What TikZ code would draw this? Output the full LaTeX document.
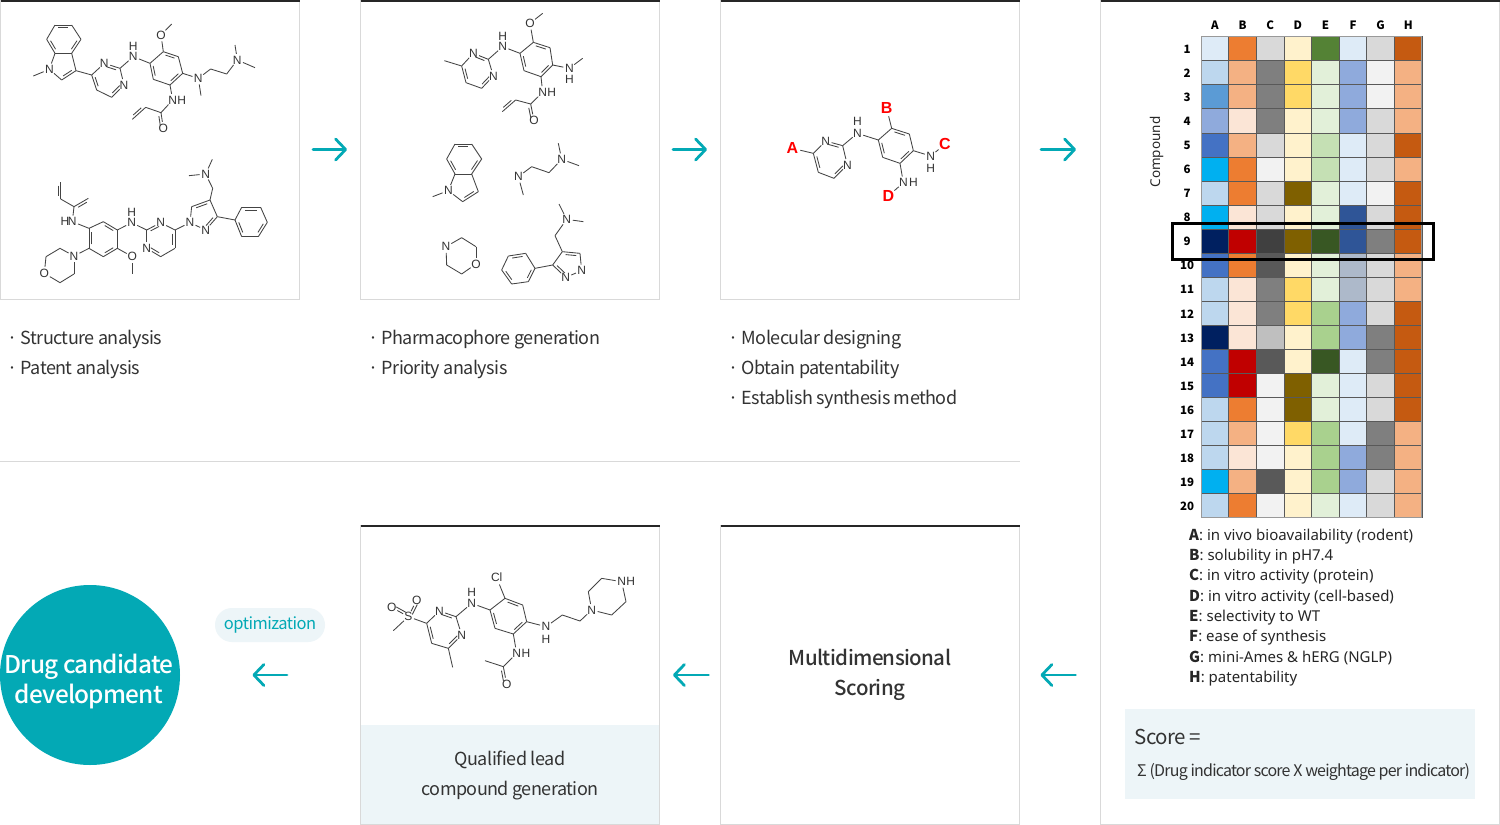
\documentclass[tikz,border=0pt]{standalone}
\usepackage{fontspec}
\usetikzlibrary{calc,arrows.meta}
\setmainfont{Noto Sans}
\newfontfamily\nk[LetterSpace=-3]{Noto Sans CJK KR}
\newfontfamily\nkt[LetterSpace=-5]{Noto Sans CJK KR}
\newfontfamily\nkm[LetterSpace=-3]{Noto Sans CJK KR Medium}
\newfontfamily\nkc[LetterSpace=-3]{Noto Sans CJK KR Medium}
\newfontfamily\nkb{Noto Sans CJK KR}
\newfontfamily\atf{Liberation Sans}
\definecolor{teal1}{HTML}{03A9B5}
\definecolor{pale}{HTML}{EDF5F8}
\definecolor{edge}{HTML}{D9D9D9}
\definecolor{ink}{HTML}{333333}
\definecolor{bond1}{HTML}{444444}
\definecolor{bl0}{HTML}{DEEBF7}\definecolor{bl1}{HTML}{BDD7EE}\definecolor{bl2}{HTML}{5B9BD5}
\definecolor{bl3}{HTML}{8FAADC}\definecolor{bl4}{HTML}{4472C4}\definecolor{cy}{HTML}{00B0F0}
\definecolor{nv}{HTML}{002060}\definecolor{or0}{HTML}{FBE5D6}\definecolor{or1}{HTML}{F4B183}
\definecolor{or2}{HTML}{ED7D31}\definecolor{rd}{HTML}{C00000}\definecolor{br}{HTML}{C55A11}
\definecolor{gy0}{HTML}{F2F2F2}\definecolor{gy1}{HTML}{D9D9D9}\definecolor{gy2}{HTML}{BFBFBF}
\definecolor{gy3}{HTML}{7F7F7F}\definecolor{gy4}{HTML}{595959}\definecolor{gy5}{HTML}{404040}
\definecolor{ye0}{HTML}{FFF2CC}\definecolor{ye1}{HTML}{FFD966}\definecolor{ye2}{HTML}{7F6000}
\definecolor{gr0}{HTML}{E2F0D9}\definecolor{gr1}{HTML}{C5E0B4}\definecolor{gr2}{HTML}{A9D18E}
\definecolor{gr3}{HTML}{548235}\definecolor{gr4}{HTML}{385723}\definecolor{fb}{HTML}{2F5597}
\definecolor{fg}{HTML}{ADB9CA}
\tikzset{
  panel/.style={draw=edge,line width=1pt,minimum width=299pt,minimum height=299pt,inner sep=0pt,outer sep=0pt},
  topline/.style={draw=black!85,line width=2.4pt},
  flow/.style={draw=teal1,line width=2.8pt,line cap=round,line join=round,-{Straight Barb[length=10pt,width=21pt,round]}},
  atom/.style={circle,inner sep=0pt,minimum size=11pt,text=ink,font=\atf\fontsize{12}{12}\selectfont},
  redatom/.style={circle,inner sep=0pt,minimum size=10pt,text=red,font=\atf\bfseries\fontsize{16}{16}\selectfont},
  bond/.style={draw=bond1,line width=.85pt},
  body/.style={anchor=base west,inner sep=0pt,text=ink,font=\nk\fontsize{18}{18}\selectfont},
  legend/.style={anchor=base west,inner sep=0pt,text=black!85,font=\fontsize{15}{15}\selectfont},
  rowlab/.style={inner sep=0pt,text=black,font=\nkb\bfseries\fontsize{11.5}{11.5}\selectfont},
  mol/.style={x=.33333pt,y=-.33333pt}
}
\newcommand{\At}[4]{\node[atom] (#1) at (#2,#3) {#4};}
\newcommand{\Ra}[4]{\node[redatom] (#1) at (#2,#3) {#4};}
\newcommand{\Cc}[3]{\coordinate (#1) at (#2,#3);}
\newcommand{\Bd}[1]{\foreach \pa/\pb in {#1} \draw[bond] (\pa) -- (\pb);}
\newcommand{\Db}[1]{\foreach \pa/\pb in {#1} \draw[bond] ($(\pa)!.2!(\pb)!2.6pt!-90:(\pb)$) -- ($(\pb)!.2!(\pa)!2.6pt!90:(\pa)$);}
\newcommand{\Lg}[1]{{\nkb\bfseries #1}}
\begin{document}
\begin{tikzpicture}[x=1pt,y=-1pt]
\useasboundingbox (0,0) rectangle (1500,825);
\fill[white] (0,0) rectangle (1500,825);
% panels
\node[panel] (p1) at (150,150) {};
\node[panel] (p2) at (510,150) {};
\node[panel] (p3) at (870,150) {};
\node[panel,minimum width=399pt,minimum height=824pt] (p4) at (1300,412.5) {};
\node[panel] (p5) at (510,675) {};
\node[panel] (p6) at (870,675) {};
\fill[pale] (361,725) rectangle (659,824);
\foreach \pp in {p1,p2,p3,p4,p5,p6} \draw[topline] ([yshift=-.5pt]\pp.north west) -- ([yshift=-.5pt]\pp.north east);
\coordinate (divL) at (0,461); \coordinate (divR) at (1020,461);
\draw[edge,line width=1pt] (divL) -- (divR);
% circle and pill
\node[circle,fill=teal1,minimum size=180pt,inner sep=0pt,outer sep=0pt] (cand) at (90,675) {};
\node[inner sep=0pt,align=center,text=white,font=\nkc\fontsize{24.4}{30}\selectfont] (candt) at (89,681.5) {Drug candidate\\development};
\node[fill=pale,rounded corners=17pt,minimum width=110pt,minimum height=34pt,inner sep=0pt,text=teal1,font=\nk\fontsize{16.5}{18}\selectfont] (opt) at (270,625) {\raisebox{-2.5pt}{optimization}};
% arrows
\draw[flow,shorten <=13.5pt,shorten >=13.5pt] ([yshift=.5pt]p1.east) -- ([yshift=.5pt]p2.west);
\draw[flow,shorten <=13.5pt,shorten >=13.5pt] ([yshift=.5pt]p2.east) -- ([yshift=.5pt]p3.west);
\draw[flow,shorten <=21.5pt,shorten >=24.5pt] ([yshift=.5pt]p3.east) -- ([yshift=.5pt]p3.east -| p4.west);
\draw[flow,shorten <=25pt,shorten >=21pt] (p6.east -| p4.west) -- (p6.east);
\draw[flow,shorten <=12pt,shorten >=13.5pt] (p6.west) -- (p5.east);
\draw[flow,shorten <=73.5pt,shorten >=72.5pt] (p5.west) -- (cand.east);
% bullet texts
\newcommand{\BulT}[4]{\node[body] (#1) at (#2,#3) {\makebox[10.5pt][l]{\hspace*{-2.5pt}·}#4};}
\BulT{t1}{10}{344}{Structure analysis}
\BulT{t2}{10}{374}{Patent analysis}
\BulT{t3}{371}{344}{Pharmacophore generation}
\BulT{t4}{371}{374}{Priority analysis}
\BulT{t5}{731}{344}{Molecular designing}
\BulT{t6}{731}{374}{Obtain patentability}
\BulT{t7}{731}{404}{Establish synthesis method}
\node[inner sep=0pt,align=center,text=ink,font=\nkm\fontsize{20.5}{30}\selectfont] (ms) at (870,675) {Multidimensional\\Scoring};
\node[inner sep=0pt,align=center,text=ink,font=\nk\fontsize{18}{30}\selectfont] (ql) at (510,775) {Qualified lead\\compound generation};
% heat map
\def\colw{27.6}\def\rowh{24.03}
\newcommand{\Rw}[9]{\foreach \cc [count=\ci from 0] in {#2,#3,#4,#5,#6,#7,#8,#9}
  \fill[fill=\cc,draw=black!65,line width=.6pt] ({1201+\ci*\colw},{36.7+(#1-1)*\rowh}) rectangle ++(\colw,\rowh);
  \node[rowlab] (r#1) at (1187,{37.5+(#1-.5)*\rowh}) {#1};}
\Rw{1}{bl0}{or2}{gy1}{ye0}{gr3}{bl0}{gy1}{br}
\Rw{2}{bl1}{or1}{gy3}{ye1}{gr0}{bl3}{gy0}{or1}
\Rw{3}{bl2}{or1}{gy3}{ye1}{gr0}{bl3}{gy0}{or1}
\Rw{4}{bl3}{or0}{gy3}{ye0}{gr0}{bl3}{gy1}{or1}
\Rw{5}{bl4}{or1}{gy1}{ye0}{gr1}{bl0}{gy1}{br}
\Rw{6}{cy}{or2}{gy0}{ye0}{gr1}{bl0}{gy1}{or1}
\Rw{7}{bl1}{or2}{gy1}{ye2}{gr0}{bl0}{gy0}{br}
\Rw{8}{cy}{or0}{gy1}{ye0}{gr0}{fb}{gy1}{br}
\Rw{9}{nv}{rd}{gy5}{ye2}{gr4}{fb}{gy3}{br}
\Rw{10}{bl4}{or2}{gy4}{ye0}{gr0}{fg}{gy1}{or1}
\Rw{11}{bl1}{or0}{gy3}{ye1}{gr0}{fg}{gy1}{or1}
\Rw{12}{bl1}{or0}{gy3}{ye1}{gr2}{bl3}{gy1}{br}
\Rw{13}{nv}{or0}{gy2}{ye0}{gr2}{bl3}{gy3}{br}
\Rw{14}{bl4}{rd}{gy4}{ye0}{gr4}{bl0}{gy3}{br}
\Rw{15}{bl4}{rd}{gy0}{ye2}{gr0}{bl0}{gy1}{br}
\Rw{16}{bl1}{or2}{gy0}{ye2}{gr0}{bl0}{gy1}{br}
\Rw{17}{bl1}{or1}{gy0}{ye1}{gr2}{bl0}{gy3}{or1}
\Rw{18}{bl1}{or0}{gy0}{ye0}{gr2}{bl3}{gy3}{or1}
\Rw{19}{cy}{or1}{gy4}{ye0}{gr2}{bl3}{gy1}{or1}
\Rw{20}{bl1}{or2}{gy0}{ye0}{gr0}{bl0}{gy1}{or1}
\draw[black!40,line width=1pt] (1201,36.7) rectangle (1421.8,517.3);
\foreach \hh [count=\hi from 0] in {A,B,C,D,E,F,G,H}
  \node[rowlab] (h\hh) at ({1215+\hi*\colw},25) {\hh};
\node[inner sep=0pt,rotate=90,text=black!85,font=\fontsize{13.5}{14}\selectfont] (cpd) at (1156.5,152) {Compound};
\node[draw=black,line width=2.8pt,minimum width=261pt,minimum height=36pt,inner sep=0pt] (sel) at (1303,241.5) {};
% legend
\node[legend] (l1) at (1189,540) {\Lg{A}: in vivo bioavailability (rodent)};
\node[legend] (l2) at (1189,560) {\Lg{B}: solubility in pH7.4};
\node[legend] (l3) at (1189,580.5) {\Lg{C}: in vitro activity (protein)};
\node[legend] (l4) at (1189,601) {\Lg{D}: in vitro activity (cell-based)};
\node[legend] (l5) at (1189,621.5) {\Lg{E}: selectivity to WT};
\node[legend] (l6) at (1189,641.5) {\Lg{F}: ease of synthesis};
\node[legend] (l7) at (1189,662.5) {\Lg{G}: mini-Ames \& hERG (NGLP)};
\node[legend] (l8) at (1189,682.5) {\Lg{H}: patentability};
\node[fill=pale,minimum width=350pt,minimum height=90pt,inner sep=0pt] (sb) at (1300,754) {};
\node[anchor=base west,inner sep=0pt,text=ink,font=\nk\fontsize{20.5}{21}\selectfont] (s1) at (1134.5,744) {Score =};
\node[anchor=base west,inner sep=0pt,text=ink,font=\nkt\fontsize{16}{17}\selectfont] (s2) at (1137,776) {Σ (Drug indicator score X weightage per indicator)};
% molecule 1
\begin{scope}[mol]
\Cc{a1}{165}{75}\Cc{a2}{215}{75}\Cc{a3}{243}{118}\Cc{a4}{215}{160}\Cc{a5}{165}{160}\Cc{a6}{140}{118}
\At{aN}{148}{208}{N}\Cc{aMe}{100}{228}\Cc{a7}{185}{240}\Cc{a8}{228}{212}
\Cc{a9}{275}{225}\At{a10}{313}{190}{N}\Cc{a11}{360}{205}\At{a12}{372}{255}{N}\Cc{a13}{335}{292}\Cc{a14}{290}{270}
\At{a15}{400}{170}{N}\At{a16}{400}{140}{H}
\Cc{b1}{450}{190}\Cc{b2}{490}{155}\Cc{b3}{535}{170}\Cc{b4}{548}{220}\Cc{b5}{510}{255}\Cc{b6}{460}{238}
\At{aO}{483}{105}{O}\Cc{aOMe}{515}{72}
\At{aN2}{595}{235}{N}\Cc{aM2}{603}{287}\Cc{aC1}{632}{207}\Cc{aC2}{680}{222}\At{aN3}{712}{180}{N}\Cc{aM3}{705}{135}\Cc{aM4}{765}{203}
\At{aN4}{518}{300}{N}\At{aH4}{545}{300}{H}\Cc{aC3}{483}{338}\At{aO2}{490}{385}{O}\Cc{aC4}{437}{322}\Cc{aC5}{397}{358}
\Bd{a1/a2,a2/a3,a3/a4,a4/a5,a5/a6,a6/a1,a5/aN,aN/aMe,aN/a7,a7/a8,a8/a4,a8/a9,a9/a10,a10/a11,a11/a12,a12/a13,a13/a14,a14/a9,a11/a15,a15/b1,b1/b2,b2/b3,b3/b4,b4/b5,b5/b6,b6/b1,b2/aO,aO/aOMe,b4/aN2,aN2/aM2,aN2/aC1,aC1/aC2,aC2/aN3,aN3/aM3,aN3/aM4,b5/aN4,aN4/aC3,aC3/aO2,aC3/aC4,aC4/aC5}
\Db{a1/a2,a3/a4,a5/a6,a8/a7,a10/a11,a12/a13,a14/a9,b2/b3,b4/b5,b6/b1,aC3/aO2,aC4/aC5}
% molecule 2
\Cc{c1}{182}{547}\Cc{c2}{182}{597}\Cc{c3}{222}{620}\Cc{c4}{265}{595}\At{cN}{217}{665}{N}\At{cH}{195}{665}{H}
\Cc{d1}{267}{685}\Cc{d2}{310}{665}\Cc{d3}{352}{690}\Cc{d4}{352}{745}\Cc{d5}{310}{770}\Cc{d6}{267}{745}
\At{cN2}{222}{768}{N}\Cc{e1}{180}{745}\Cc{e2}{138}{770}\At{e3}{133}{820}{O}\Cc{e4}{180}{848}\Cc{e5}{222}{822}
\At{cO}{397}{770}{O}\Cc{cOM}{397}{822}\At{cN3}{395}{668}{N}\At{cH3}{395}{638}{H}
\Cc{f1}{440}{690}\At{f2}{482}{668}{N}\Cc{f3}{525}{690}\Cc{f4}{525}{745}\Cc{f5}{482}{770}\At{f6}{440}{745}{N}
\At{g1}{570}{668}{N}\At{g2}{617}{690}{N}\Cc{g3}{652}{650}\Cc{g4}{630}{600}\Cc{g5}{575}{620}
\Cc{gC}{638}{565}\At{gN}{617}{522}{N}\Cc{gM1}{567}{527}\Cc{gM2}{637}{478}
\Cc{j1}{705}{660}\Cc{j2}{725}{622}\Cc{j3}{782}{622}\Cc{j4}{802}{667}\Cc{j5}{775}{710}\Cc{j6}{725}{710}
\Bd{c1/c2,c2/c3,c3/c4,c3/cN,cN/d1,d1/d2,d2/d3,d3/d4,d4/d5,d5/d6,d6/d1,d6/cN2,cN2/e1,e1/e2,e2/e3,e3/e4,e4/e5,e5/cN2,d4/cO,cO/cOM,d3/cN3,cN3/f1,f1/f2,f2/f3,f3/f4,f4/f5,f5/f6,f6/f1,f3/g1,g1/g2,g2/g3,g3/g4,g4/g5,g5/g1,g4/gC,gC/gN,gN/gM1,gN/gM2,g3/j1,j1/j2,j2/j3,j3/j4,j4/j5,j5/j6,j6/j1}
\Db{c1/c2,c3/c4,d2/d3,d4/d5,d6/d1,f1/f2,f3/f4,f5/f6,g5/g4,g3/g2,j2/j3,j4/j5,j6/j1}
\end{scope}
% panel 2 molecules
\begin{scope}[shift={(360,0)},mol]
\Cc{k0}{253}{182}\Cc{k1}{305}{198}\At{k2}{340}{160}{N}\Cc{k3}{385}{178}\At{k4}{400}{228}{N}\Cc{k5}{365}{265}\Cc{k6}{318}{248}
\At{kN}{428}{140}{N}\At{kH}{428}{108}{H}
\Cc{l1a}{480}{160}\Cc{l2a}{520}{127}\Cc{l3a}{570}{143}\Cc{l4a}{578}{195}\Cc{l5a}{543}{230}\Cc{l6a}{492}{212}
\At{kO}{510}{70}{O}\Cc{kOM}{548}{40}\At{kN2}{628}{205}{N}\At{kH2}{628}{238}{H}\Cc{kM2}{668}{175}
\At{kN3}{548}{277}{N}\At{kH3}{575}{277}{H}\Cc{kC}{512}{312}\At{kO2}{522}{362}{O}\Cc{kV1}{467}{300}\Cc{kV2}{427}{335}
\Bd{k0/k1,k1/k2,k2/k3,k3/k4,k4/k5,k5/k6,k6/k1,k3/kN,kN/l1a,l1a/l2a,l2a/l3a,l3a/l4a,l4a/l5a,l5a/l6a,l6a/l1a,l2a/kO,kO/kOM,l4a/kN2,kN2/kM2,l5a/kN3,kN3/kC,kC/kO2,kC/kV1,kV1/kV2}
\Db{k2/k3,k4/k5,k6/k1,l2a/l3a,l4a/l5a,l6a/l1a,kC/kO2,kV1/kV2}
\Cc{m1}{285}{432}\Cc{m2}{335}{432}\Cc{m3}{365}{477}\Cc{m4}{335}{522}\Cc{m5}{285}{522}\Cc{m6}{260}{477}
\At{mN}{265}{572}{N}\Cc{mMe}{218}{590}\Cc{m7}{308}{605}\Cc{m8}{355}{575}
\Bd{m1/m2,m2/m3,m3/m4,m4/m5,m5/m6,m6/m1,m5/mN,mN/mMe,mN/m7,m7/m8,m8/m4}
\Db{m1/m2,m3/m4,m5/m6,m8/m7}
\At{nN}{605}{478}{N}\Cc{nM1}{595}{430}\Cc{nM2}{657}{497}\Cc{nC1}{567}{518}\Cc{nC2}{515}{500}\At{nN2}{475}{530}{N}\Cc{nM3}{490}{585}
\Bd{nN/nM1,nN/nM2,nN/nC1,nC1/nC2,nC2/nN2,nN2/nM3}
\At{oN}{258}{740}{N}\Cc{o2}{305}{713}\Cc{o3}{348}{740}\At{oO}{348}{792}{O}\Cc{o5}{305}{822}\Cc{o6}{260}{795}
\Bd{oN/o2,o2/o3,o3/oO,oO/o5,o5/o6,o6/oN}
\At{qN}{620}{658}{N}\Cc{qM1}{597}{612}\Cc{qM2}{670}{665}\Cc{qC}{585}{707}\Cc{q1}{607}{755}\Cc{q2}{660}{760}\At{q3}{665}{812}{N}\At{q4}{617}{832}{N}\Cc{q5}{578}{795}
\Cc{s1a}{525}{805}\Cc{s2a}{497}{760}\Cc{s3a}{445}{768}\Cc{s4a}{425}{810}\Cc{s5a}{455}{852}\Cc{s6a}{505}{845}
\Bd{qN/qM1,qN/qM2,qN/qC,qC/q1,q1/q2,q2/q3,q3/q4,q4/q5,q5/q1,q5/s1a,s1a/s2a,s2a/s3a,s3a/s4a,s4a/s5a,s5a/s6a,s6a/s1a}
\Db{q1/q2,q4/q5,s1a/s6a,s5a/s4a,s3a/s2a}
\end{scope}
% panel 3 molecule
\begin{scope}[shift={(760,80)},mol]
\Ra{rA}{97}{205}{A}\Cc{r1}{160}{220}\At{r2}{197}{183}{N}\Cc{r3}{248}{197}\At{r4}{262}{255}{N}\Cc{r5}{222}{295}\Cc{r6}{175}{277}
\At{rN}{292}{160}{N}\At{rH}{292}{125}{H}
\Cc{u1}{355}{180}\Cc{u2}{395}{145}\Cc{u3}{448}{162}\Cc{u4}{460}{212}\Cc{u5}{420}{250}\Cc{u6}{368}{232}
\Ra{rB}{380}{85}{B}\At{rN2}{512}{228}{N}\At{rH2}{512}{265}{H}\Ra{rC}{555}{193}{C}
\At{rN3}{430}{308}{N}\At{rH3}{460}{308}{H}\Ra{rD}{385}{348}{D}
\Bd{rA/r1,r1/r2,r2/r3,r3/r4,r4/r5,r5/r6,r6/r1,r3/rN,rN/u1,u1/u2,u2/u3,u3/u4,u4/u5,u5/u6,u6/u1,u2/rB,u4/rN2,rN2/rC,u5/rN3,rN3/rD}
\Db{r2/r3,r4/r5,r6/r1,u2/u3,u4/u5,u6/u1}
\end{scope}
% lead molecule
\begin{scope}[shift={(370,560)},mol]
\Cc{v0}{70}{212}\At{vS}{115}{170}{S}\At{vO1}{65}{142}{O}\At{vO2}{140}{120}{O}
\Cc{v1}{170}{190}\At{v2}{208}{153}{N}\Cc{v3}{258}{170}\At{v4}{275}{225}{N}\Cc{v5}{235}{265}\Cc{v6}{185}{250}\Cc{vM}{248}{322}
\At{vN}{305}{130}{N}\At{vH}{305}{97}{H}
\Cc{w1}{360}{150}\Cc{w2}{405}{115}\Cc{w3}{458}{135}\Cc{w4}{470}{185}\Cc{w5}{430}{222}\Cc{w6}{375}{205}
\At{vCl}{380}{53}{Cl}\At{vN2}{528}{200}{N}\At{vH2}{528}{237}{H}\Cc{vC1}{577}{165}\Cc{vC2}{630}{183}
\At{x1}{665}{150}{N}\Cc{x2}{655}{95}\Cc{x3}{695}{55}\At{x4}{755}{65}{N}\At{x4H}{782}{65}{H}\Cc{x5}{768}{125}\Cc{x6}{725}{165}
\At{vN3}{440}{280}{N}\At{vH3}{468}{280}{H}\Cc{vC}{400}{320}\Cc{vM2}{345}{302}\At{vO3}{410}{372}{O}
\Bd{v0/vS,vS/vO1,vS/vO2,vS/v1,v1/v2,v2/v3,v3/v4,v4/v5,v5/v6,v6/v1,v5/vM,v3/vN,vN/w1,w1/w2,w2/w3,w3/w4,w4/w5,w5/w6,w6/w1,w2/vCl,w4/vN2,vN2/vC1,vC1/vC2,vC2/x1,x1/x2,x2/x3,x3/x4,x4/x5,x5/x6,x6/x1,w5/vN3,vN3/vC,vC/vM2,vC/vO3}
\Db{vS/vO1,vS/vO2,v2/v3,v4/v5,v6/v1,w2/w3,w4/w5,w6/w1,vC/vO3}
\end{scope}
\end{tikzpicture}
\end{document}
